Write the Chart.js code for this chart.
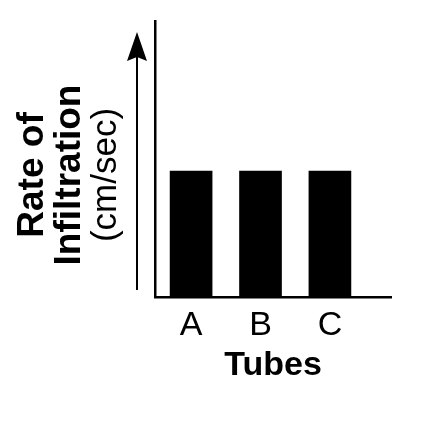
<!DOCTYPE html>
<html>
<head>
<meta charset="utf-8">
<script src="https://cdn.jsdelivr.net/npm/chart.js@4/dist/chart.umd.min.js"></script>
<style>
  html, body { margin: 0; padding: 0; background: #fff; }
  #wrap { width: 438px; height: 422px; }
</style>
</head>
<body>
<div id="wrap"><canvas id="chart"></canvas></div>
<script>
const tubes = [`A`, `B`, `C`];
const rates = [1, 1, 1];
const yTitle = [`Rate of`, `Infiltration`, `(cm/sec)`];
const xTitle = `Tubes`;

const FONT = `"Liberation Sans", Arial, Helvetica, sans-serif`;

// arrow next to y axis + 3 line rotated y title
const decor = {
  id: `decor`,
  afterDraw(chart) {
    const ctx = chart.ctx;
    const area = chart.chartArea;
    ctx.save();
    ctx.strokeStyle = `#000`;
    ctx.fillStyle = `#000`;
    ctx.lineWidth = 2;
    const ax = area.left - 18;
    ctx.beginPath();
    ctx.moveTo(ax, area.bottom - 7);
    ctx.lineTo(ax, area.top + 30);
    ctx.stroke();
    ctx.beginPath();
    ctx.moveTo(ax, area.top + 11);
    ctx.lineTo(ax - 10, area.top + 40);
    ctx.lineTo(ax, area.top + 36);
    ctx.lineTo(ax + 10, area.top + 40);
    ctx.closePath();
    ctx.fill();

    const cy = 175;
    const lines = [
      {text: yTitle[0], x: 43, font: `bold 37px ${FONT}`},
      {text: yTitle[1], x: 80, font: `bold 37px ${FONT}`},
      {text: yTitle[2], x: 116, font: `35px ${FONT}`},
    ];
    ctx.textAlign = `center`;
    ctx.textBaseline = `alphabetic`;
    lines.forEach((it) => {
      ctx.save();
      ctx.translate(it.x, cy);
      ctx.rotate(-Math.PI / 2);
      ctx.font = it.font;
      ctx.fillText(it.text, 0, 0);
      ctx.restore();
    });
    ctx.restore();
  }
};

new Chart(document.getElementById(`chart`), {
  type: `bar`,
  plugins: [decor],
  data: {
    datasets: [{
      data: tubes.map((t, i) => ({x: i, y: rates[i]})),
      backgroundColor: `#000`,
      borderWidth: 0,
      barThickness: 42,
    }]
  },
  options: {
    responsive: true,
    maintainAspectRatio: false,
    animation: false,
    layout: {padding: {left: 155, top: 21, right: 47, bottom: 0}},
    plugins: {legend: {display: false}, tooltip: {enabled: false}},
    scales: {
      x: {
        type: `linear`,
        offset: false,
        bounds: `data`,
        min: -0.52,
        max: 2.88,
        afterBuildTicks: (scale) => {
          scale.ticks = tubes.map((t, i) => ({value: i}));
        },
        afterFit: (scale) => {
          scale.height = 125;
        },
        grid: {display: false, drawTicks: false, offset: false},
        border: {display: true, color: `#000`, width: 2.5},
        ticks: {
          color: `#000`,
          padding: 8,
          font: {family: FONT, size: 34},
          callback: (v) => tubes[v],
        },
        title: {
          display: true,
          text: xTitle,
          color: `#000`,
          padding: {top: 0, bottom: 36},
          font: {family: FONT, size: 34, weight: `bold`},
        },
      },
      y: {
        min: 0,
        max: 2.19,
        grid: {display: false, drawTicks: false},
        border: {display: true, color: `#000`, width: 2.5},
        ticks: {display: false},
      },
    },
  },
});
</script>
</body>
</html>
